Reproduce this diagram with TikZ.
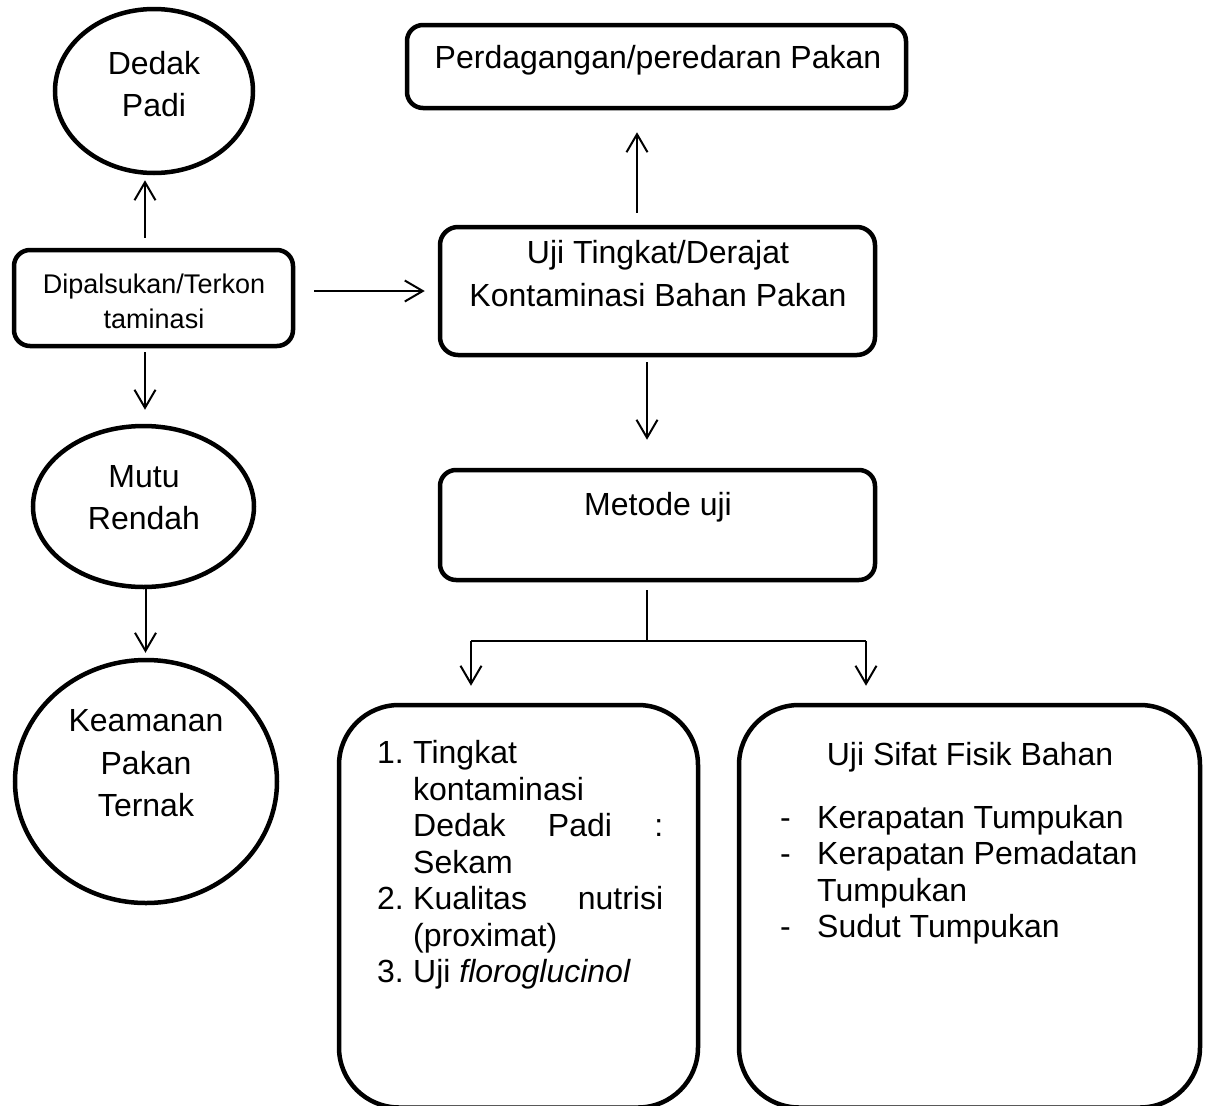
\documentclass[tikz,border=0pt]{standalone}
\usepackage{fontspec}
\setmainfont{Liberation Sans}
\usetikzlibrary{arrows.meta, shapes.geometric, positioning}
\newcommand{\BigText}{\fontsize{32}{42.5}\selectfont}
\newcommand{\SmallText}{\fontsize{27}{35}\selectfont}
\newcommand{\ListText}{\fontsize{32}{36.5}\selectfont}

\begin{document}
\begin{tikzpicture}[x=1pt, y=-1pt,
  roundbox/.style={draw, line width=4.5pt, rounded corners=16pt, inner sep=0pt},
  oval/.style={draw, ellipse, line width=4.5pt, inner sep=0pt},
  bigtxt/.style={font=\BigText, align=center, inner sep=0pt},
  conn/.style={line width=2pt},
  arr/.style={conn, -{Straight Barb[length=18pt,width=21pt]}}]
\useasboundingbox (0,0) rectangle (1211,1106);

% left column
\node[oval, minimum width=198pt, minimum height=164pt] (dedak) at (154,91) {};
\node[bigtxt] (dedak-t) at (154,84) {Dedak\\Padi};
\node[roundbox, minimum width=279pt, minimum height=96pt] (dip) at (153.5,298) {};
\node[font=\SmallText, align=center, inner sep=0pt] (dip-t) at (154,301) {Dipalsukan/Terkon\\taminasi};
\node[oval, minimum width=221pt, minimum height=161pt] (mutu) at (143.5,506.5) {};
\node[bigtxt] (mutu-t) at (144,497.5) {Mutu\\Rendah};
\node[oval, minimum width=262pt, minimum height=243pt] (keam) at (146,781.5) {};
\node[bigtxt] (keam-t) at (146,763.5) {Keamanan\\Pakan\\Ternak};

% middle column
\node[roundbox, minimum width=499pt, minimum height=83pt] (perd) at (656.5,66.5) {};
\node[font=\BigText, anchor=base, inner sep=0pt] (perd-t) at (658,68) {Perdagangan/peredaran Pakan};
\node[roundbox, rounded corners=18pt, minimum width=435pt, minimum height=128pt] (uji) at (657.5,291) {};
\node[bigtxt] (uji-t) at (658,273.5) {Uji Tingkat/Derajat\\Kontaminasi Bahan Pakan};
\node[roundbox, minimum width=435pt, minimum height=110pt] (metode) at (657.5,525) {};
\node[font=\BigText, anchor=base, inner sep=0pt] (metode-t) at (658,515) {Metode uji};

% bottom boxes, cut by the lower edge
\node[roundbox, rounded corners=60pt, minimum width=359pt, minimum height=402.5pt] (lbox) at (518.5,906.25) {};
\node[font=\ListText, anchor=north west, inner sep=0pt] (lbox-t) at (377,738) {%
\begin{tabular}{@{}p{36pt}@{}l@{}}
1. & Tingkat\\
   & kontaminasi\\
   & \makebox[250pt][s]{Dedak Padi :}\\
   & Sekam\\
2. & \makebox[250pt][s]{Kualitas nutrisi}\\
   & (proximat)\\
3. & Uji \textit{floroglucinol}
\end{tabular}};
\node[roundbox, rounded corners=60pt, minimum width=461pt, minimum height=402.5pt] (rbox) at (969.5,906.25) {};
\node[font=\BigText, anchor=base, inner sep=0pt] (rbox-t) at (970,765) {Uji Sifat Fisik Bahan};
\node[font=\ListText, anchor=north west, inner sep=0pt] (rbox-l) at (780,802.5) {%
\begin{tabular}{@{}p{37pt}@{}l@{}}
- & Kerapatan Tumpukan\\
- & Kerapatan Pemadatan\\
  & Tumpukan\\
- & Sudut Tumpukan
\end{tabular}};

% arrows
\draw[arr, shorten <=10pt, shorten >=5pt] ([xshift=-8.5pt]dip.north) -- ([xshift=-8.5pt]dip.north |- dedak.south);
\draw[arr, shorten <=4pt, shorten >=14pt] ([xshift=-8.5pt]dip.south) -- ([xshift=-8.5pt]dip.south |- mutu.north);
\draw[arr, shorten >=5pt] ([xshift=2pt]mutu.south) -- ([xshift=2pt]mutu.south |- keam.north);
\draw[arr, shorten <=19pt, shorten >=13pt] (dip.east |- uji.west) -- (uji.west);
\draw[arr, shorten <=12pt, shorten >=22pt] ([xshift=-20.5pt]uji.north) -- ([xshift=-20.5pt]uji.north |- perd.south);
\draw[arr, shorten <=5pt, shorten >=28pt] ([xshift=-10.5pt]uji.south) -- ([xshift=-10.5pt]uji.south |- metode.north);

% fork to the two test groups
\coordinate (fork) at (647,641);
\coordinate (forkL) at (471,641);
\coordinate (forkR) at (866,641);
\draw[conn, shorten <=8pt] ([xshift=-10.5pt]metode.south) -- (fork);
\draw[conn] (forkL) -- (forkR);
\foreach \f/\b in {forkL/lbox,forkR/rbox}
\draw[arr, shorten >=17pt] (\f) -- (\f |- \b.north);

\end{tikzpicture}
\end{document}
